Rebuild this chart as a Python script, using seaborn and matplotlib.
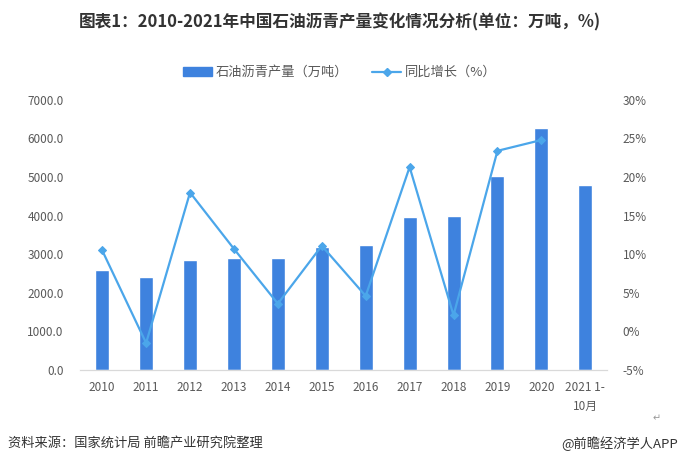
import matplotlib
matplotlib.use('Agg')
import matplotlib.pyplot as plt
import seaborn as sns
import numpy as np
import pandas as pd

# Data
years = ['2010', '2011', '2012', '2013', '2014', '2015', '2016',
         '2017', '2018', '2019', '2020', '2021 1-\n10月']
output = [2600, 2410, 2855, 2905, 2905, 3200, 3245, 3970, 3995, 5035, 6260, 4800]
growth_years = years[:11]
growth = [10.5, -1.5, 18.0, 10.7, 3.6, 11.1, 4.6, 21.3, 2.1, 23.4, 24.8]

bar_color = '#3E82DE'
line_color = '#4BA6EA'
text_color = '#595959'

sns.set_style('white')
plt.rcParams['font.family'] = ['Noto Sans CJK SC', 'DejaVu Sans']

fig = plt.figure(figsize=(6.8, 4.69), dpi=100)
ax = fig.add_axes([0.118, 0.211, 0.775, 0.576])

df = pd.DataFrame({'year': years, 'output': output})
sns.barplot(data=df, x='year', y='output', color=bar_color, width=0.32,
            saturation=1, ax=ax)
ax.set_xlim(-0.5, len(years) - 0.5)
ax.set_ylim(0, 7000)
ax.set_yticks(np.arange(0, 7001, 1000))
ax.set_yticklabels([f'{v:.1f}' for v in np.arange(0, 7001, 1000)])
ax.set_xlabel('')
ax.set_ylabel('')

ax2 = ax.twinx()
gdf = pd.DataFrame({'pos': np.arange(len(growth_years)), 'growth': growth})
sns.lineplot(data=gdf, x='pos', y='growth', color=line_color, linewidth=1.6,
             marker='D', markersize=4, markeredgecolor=line_color, ax=ax2)
ax2.set_ylim(-5, 30)
ax2.set_yticks(np.arange(-5, 31, 5))
ax2.set_yticklabels([f'{v}%' for v in range(-5, 31, 5)])
ax2.set_ylabel('')
ax2.set_xlim(-0.5, len(years) - 0.5)

for a in (ax, ax2):
    for s in ('top', 'left', 'right'):
        a.spines[s].set_visible(False)
    a.spines['bottom'].set_color('#d9d9d9')
    a.tick_params(length=0, labelsize=8.5, colors=text_color)
ax.tick_params(axis='y', pad=12)
ax2.tick_params(axis='y', pad=11)
ax.tick_params(axis='x', pad=8)
for lbl in ax.get_xticklabels():
    lbl.set_linespacing(1.6)

fig.text(0.5, 0.953, '图表1：2010-2021年中国石油沥青产量变化情况分析(单位：万吨，%)',
         ha='center', va='center', fontsize=12, fontweight='bold', color='#333333')

handles = [plt.Rectangle((0, 0), 1, 1, color=bar_color),
           plt.Line2D([], [], color=line_color, linewidth=1.6, marker='D',
                      markersize=4)]
fig.legend(handles, ['石油沥青产量（万吨）', '同比增长（%）'], loc='center',
           bbox_to_anchor=(0.5, 0.845), ncol=2, frameon=False, fontsize=9.5,
           labelcolor=text_color, handlelength=2.2, handleheight=0.6,
           columnspacing=1.8, handletextpad=0.3)

fig.text(0.012, 0.055, '资料来源：国家统计局 前瞻产业研究院整理', ha='left', va='center',
         fontsize=9.5, color='#333333')
fig.text(0.997, 0.055, '@前瞻经济学人APP', ha='right', va='center',
         fontsize=9.5, color='#333333')
fig.text(0.965, 0.108, '↵', ha='center', va='center', fontsize=7,
         color='#999999', family=['DejaVu Sans'])

fig.savefig('out.png', dpi=100)
